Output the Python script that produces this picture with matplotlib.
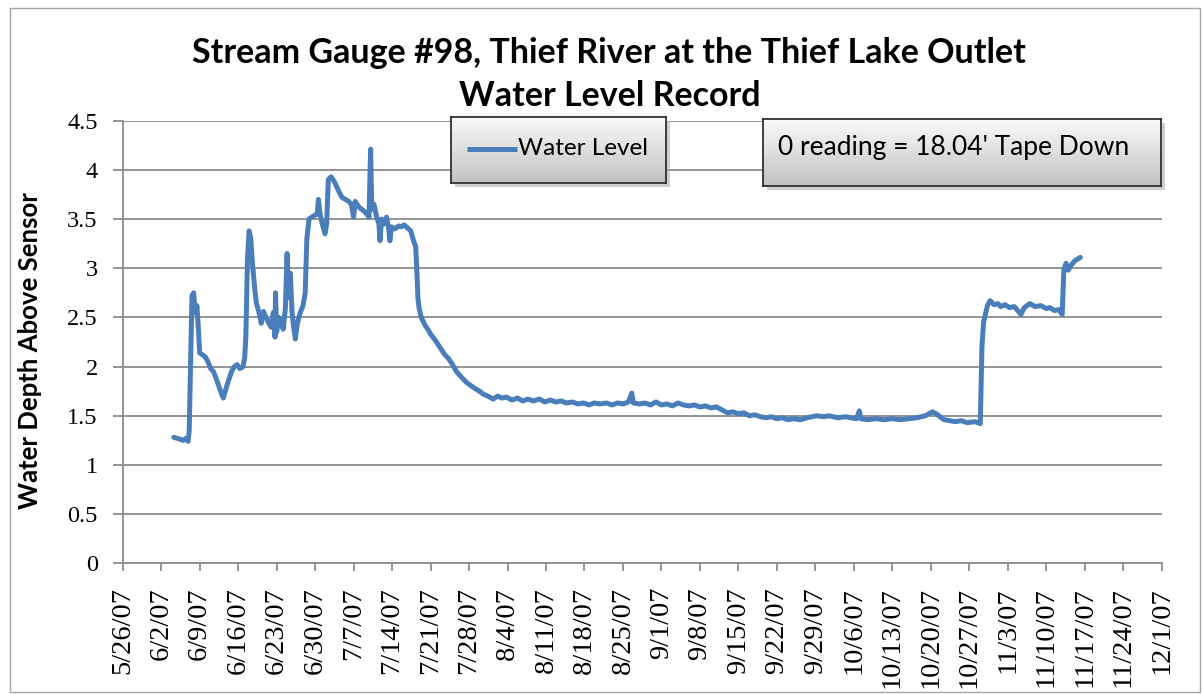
import matplotlib
matplotlib.use("Agg")
import matplotlib.pyplot as plt
from matplotlib.patches import Rectangle
import numpy as np
import pandas as pd

# ---------------- data ----------------
title_line1 = "Stream Gauge #98, Thief River at the Thief Lake Outlet"
title_line2 = "Water Level Record"
y_label = "Water Depth Above Sensor"
series_name = "Water Level"
note_text = "0 reading = 18.04' Tape Down"

x_tick_labels = ["5/26/07", "6/2/07", "6/9/07", "6/16/07", "6/23/07", "6/30/07",
                 "7/7/07", "7/14/07", "7/21/07", "7/28/07", "8/4/07", "8/11/07",
                 "8/18/07", "8/25/07", "9/1/07", "9/8/07", "9/15/07", "9/22/07",
                 "9/29/07", "10/6/07", "10/13/07", "10/20/07", "10/27/07",
                 "11/3/07", "11/10/07", "11/17/07", "11/24/07", "12/1/07"]
y_ticks = [0, 0.5, 1, 1.5, 2, 2.5, 3, 3.5, 4, 4.5]
y_tick_labels = ["0", "0.5", "1", "1.5", "2", "2.5", "3", "3.5", "4", "4.5"]

# observation time: days after 5/26/07
obs_day = [9.3, 10.0, 10.5, 11.0, 11.5, 11.9, 12.1, 12.3, 12.6, 12.9, 13.2, 13.5, 13.8,
           14.0, 14.5, 15.0, 15.5, 16.0, 16.5, 17.0, 17.5, 18.0, 18.3, 18.7, 19.2, 19.8,
           20.3, 20.8, 21.3, 21.9, 22.2, 22.4, 22.7, 23.0, 23.3, 23.6, 24.0, 24.3, 24.8,
           25.2, 25.6, 26.1, 26.5, 27.0, 27.4, 27.7, 27.8, 28.0, 28.4, 28.8, 29.2, 29.6,
           29.9, 30.2, 30.5, 30.8, 31.1, 31.4, 31.8, 32.3, 32.8, 33.2, 33.5, 33.9, 34.4,
           35.0, 35.4, 35.6, 35.9, 36.3, 36.8, 37.1, 37.4, 37.9, 38.5, 39.0, 39.5, 39.9,
           40.5, 41.1, 41.6, 42.0, 42.3, 43.0, 43.9, 44.4, 44.8, 45.1, 45.3, 45.7, 46.2,
           46.6, 46.8, 47.1, 47.6, 48.0, 48.4, 48.6, 48.9, 49.5, 50.2, 50.6, 51.2, 51.8,
           52.4, 52.9, 53.3, 53.5, 53.7, 53.9, 54.3, 55.0, 55.5, 56.0, 56.7, 57.3, 58.0,
           58.6, 59.3, 60.0, 60.7, 61.5, 62.5, 63.5, 64.3, 64.9, 65.6, 66.4, 67.4, 68.2,
           69.0, 69.8, 70.8, 71.8, 72.8, 73.7, 74.7, 75.8, 76.8, 77.8, 78.8, 79.8, 80.7,
           81.8, 82.8, 83.8, 84.8, 85.8, 86.8, 88.0, 89.0, 90.0, 91.0, 92.0, 92.6, 92.9,
           94.0, 95.0, 96.0, 97.0, 98.0, 99.0, 100.0, 101.0, 102.0, 103.0, 104.0, 105.0,
           106.0, 107.0, 108.0, 109.0, 110.0, 111.0, 112.0, 113.0, 114.0, 115.0, 116.0,
           117.0, 118.0, 119.0, 120.0, 121.0, 122.0, 123.3, 124.5, 126.3, 127.5, 128.5,
           130.0, 131.5, 132.4, 133.5, 134.0, 134.3, 135.4, 137.0, 138.5, 140.0, 141.5,
           143.0, 144.5, 146.0, 147.3, 148.0, 149.4, 150.5, 151.5, 152.5, 153.6, 155.0,
           156.0, 156.3, 156.6, 157.0, 157.3, 157.8, 158.5, 159.2, 159.7, 160.5, 161.3,
           162.2, 162.8, 163.4, 164.0, 165.0, 166.0, 167.0, 168.0, 168.6, 169.5, 170.3,
           170.9, 171.2, 171.6, 172.0, 172.5, 173.3, 174.2]
water_level = [1.28, 1.27, 1.26, 1.25, 1.27, 1.24, 1.35, 1.90, 2.72, 2.75, 2.55, 2.62, 2.35,
               2.14, 2.12, 2.10, 2.05, 1.98, 1.95, 1.88, 1.80, 1.72, 1.68, 1.76, 1.85, 1.95,
               2.00, 2.02, 1.98, 2.00, 2.10, 2.30, 3.10, 3.38, 3.30, 3.05, 2.80, 2.65, 2.55,
               2.44, 2.56, 2.50, 2.45, 2.40, 2.55, 2.30, 2.75, 2.35, 2.50, 2.45, 2.38, 2.60,
               3.15, 2.70, 2.95, 2.55, 2.40, 2.28, 2.45, 2.55, 2.62, 2.75, 3.30, 3.50, 3.52,
               3.54, 3.55, 3.70, 3.55, 3.45, 3.35, 3.45, 3.90, 3.93, 3.88, 3.82, 3.76, 3.72,
               3.70, 3.68, 3.65, 3.52, 3.68, 3.62, 3.58, 3.55, 3.52, 4.21, 3.60, 3.65, 3.52,
               3.45, 3.28, 3.50, 3.45, 3.52, 3.40, 3.28, 3.42, 3.40, 3.43, 3.42, 3.44, 3.41,
               3.38, 3.28, 3.22, 2.98, 2.70, 2.60, 2.50, 2.42, 2.38, 2.33, 2.28, 2.23, 2.17,
               2.12, 2.08, 2.02, 1.95, 1.90, 1.84, 1.80, 1.77, 1.75, 1.72, 1.70, 1.67, 1.70,
               1.68, 1.69, 1.66, 1.68, 1.65, 1.67, 1.65, 1.67, 1.64, 1.66, 1.64, 1.65, 1.63,
               1.64, 1.62, 1.63, 1.61, 1.63, 1.62, 1.63, 1.61, 1.63, 1.62, 1.64, 1.73, 1.63,
               1.62, 1.63, 1.61, 1.64, 1.61, 1.62, 1.60, 1.63, 1.61, 1.60, 1.61, 1.59,
               1.60, 1.58, 1.59, 1.56, 1.53, 1.54, 1.52, 1.53, 1.50, 1.51, 1.49,
               1.48, 1.49, 1.47, 1.48, 1.46, 1.47, 1.46, 1.48, 1.50, 1.49, 1.50,
               1.48, 1.49, 1.48, 1.47, 1.55, 1.47, 1.46, 1.47, 1.46, 1.47, 1.46,
               1.47, 1.48, 1.50, 1.54, 1.52, 1.46, 1.45, 1.44, 1.45, 1.43, 1.44,
               1.42, 2.20, 2.45, 2.55, 2.62, 2.67, 2.63, 2.64, 2.61, 2.63, 2.60,
               2.61, 2.57, 2.53, 2.60, 2.64, 2.61, 2.62, 2.59, 2.60, 2.57, 2.58,
               2.53, 2.98, 3.05, 2.98, 3.03, 3.08, 3.11]

# ---------------- figure ----------------
W, H, DPI = 1202, 694, 100
fig = plt.figure(figsize=(W / DPI, H / DPI), dpi=DPI)
fig.patch.set_facecolor("white")


def fx(px):
    return px / W


def fy(py):
    return 1 - py / H


BLUE = "#4a7ebb"
GRID = "#8c8c8c"

# outer chart frame
fig.add_artist(Rectangle((fx(10), fy(692)), fx(1200) - fx(10), fy(8) - fy(692),
                         transform=fig.transFigure, fill=False,
                         edgecolor="#a6a6a6", lw=1.0))

left, right, top, bottom = 122.7, 1161.7, 120.7, 563.3
ax = fig.add_axes([fx(left), fy(bottom), fx(right) - fx(left), fy(top) - fy(bottom)])

start = pd.Timestamp("2007-05-26")
dates = start + pd.to_timedelta(obs_day, unit="D")
ax.plot(dates, water_level, color=BLUE, lw=3.6, solid_joinstyle="round",
        solid_capstyle="round", zorder=3)

tick_dates = pd.to_datetime(x_tick_labels, format="%m/%d/%y")
ax.set_xlim(tick_dates[0], tick_dates[-1])
ax.set_xticks(tick_dates)
ax.set_xticklabels(x_tick_labels, rotation=90, family="Liberation Serif",
                   fontsize=20.5)
ax.set_ylim(0, 4.5)
ax.set_yticks(y_ticks)
ax.set_yticklabels(y_tick_labels, family="Liberation Serif", fontsize=17.5)

ax.grid(axis="y", color=GRID, lw=1.3)
ax.set_axisbelow(True)
for s in ["top", "right"]:
    ax.spines[s].set_visible(False)
for s in ["left", "bottom"]:
    ax.spines[s].set_color(GRID)
    ax.spines[s].set_linewidth(1.3)
ax.tick_params(axis="y", length=7, width=1.3, color=GRID, pad=11)
ax.tick_params(axis="x", length=6, width=1.3, color=GRID, pad=11)

# y label
fig.text(fx(30), fy(351), y_label, rotation=90, ha="center", va="center",
         family="Lato", fontweight="bold", fontsize=18.5)

# title
fig.text(fx(609), fy(53), title_line1, ha="center", va="center",
         family="Lato", fontweight="bold", fontsize=24.5)
fig.text(fx(610), fy(96), title_line2, ha="center", va="center",
         family="Lato", fontweight="bold", fontsize=24.5)

# gradient boxes
grad = np.linspace(0.98, 0.76, 64).reshape(-1, 1)


def gradient_box(x0, y0, x1, y1):
    # shadow
    fig.add_artist(Rectangle((fx(x0 + 4), fy(y1 + 4)), fx(x1) - fx(x0), fy(y0) - fy(y1),
                             transform=fig.transFigure, facecolor="#b0b0b0",
                             edgecolor="none", alpha=0.6, zorder=4))
    bax = fig.add_axes([fx(x0), fy(y1), fx(x1) - fx(x0), fy(y0) - fy(y1)], zorder=5)
    bax.imshow(grad, cmap="gray", vmin=0, vmax=1, aspect="auto",
               extent=[0, 1, 0, 1], interpolation="bilinear")
    bax.set_xlim(0, 1)
    bax.set_ylim(0, 1)
    bax.set_xticks([])
    bax.set_yticks([])
    for s in bax.spines.values():
        s.set_color("#303030")
        s.set_linewidth(1.3)
    return bax


lax = gradient_box(451, 117, 666, 183)
lax.plot([(467 - 451) / 215, (517 - 451) / 215], [0.52, 0.52], color=BLUE, lw=3.6,
         solid_capstyle="butt")
lax.text((518 - 451) / 215, 0.52, series_name, ha="left", va="center",
         family="Lato", fontsize=17.5)

nax = gradient_box(763, 119, 1161, 186)
nax.text(0.48, 0.58, note_text, ha="center", va="center", family="Lato", fontsize=19)

fig.savefig("out.png", dpi=DPI)
